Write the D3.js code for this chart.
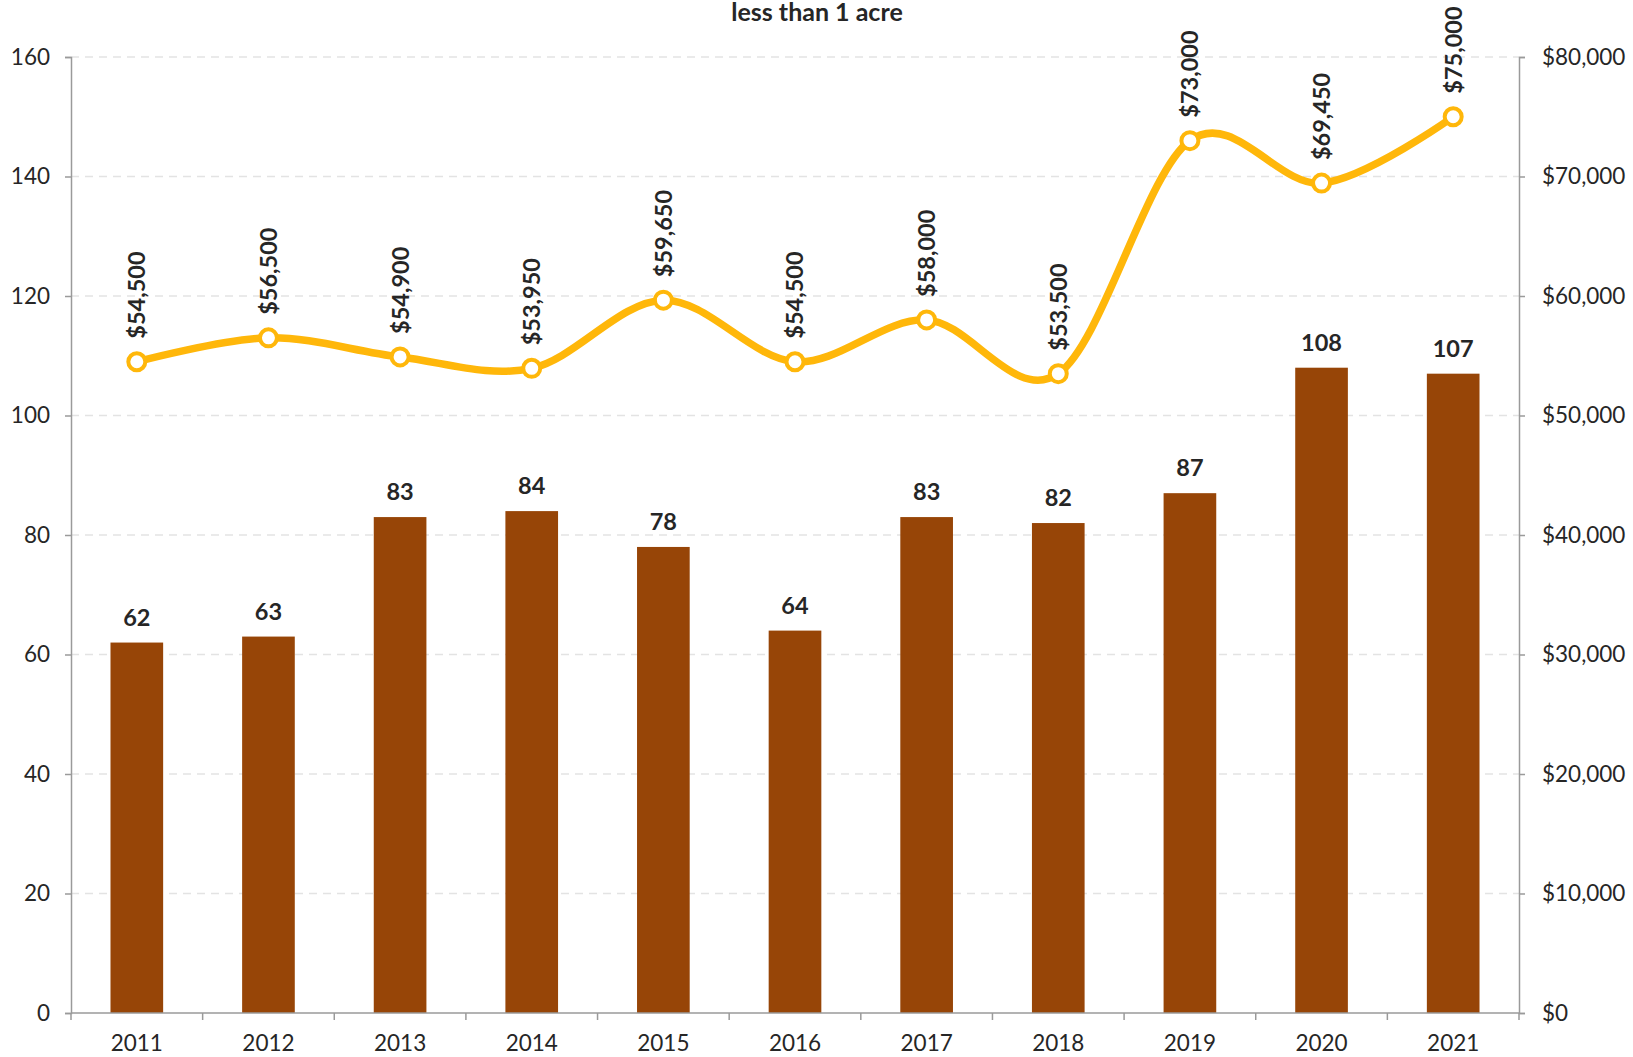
<!DOCTYPE html>
<html>
<head>
<meta charset="utf-8">
<script src="https://cdn.jsdelivr.net/npm/d3@7"></script>
<style>
  body { margin: 0; background: #fff; }
  text { font-family: Lato, "Open Sans", sans-serif; fill: #262626; }
</style>
</head>
<body>
<div id="chart"></div>
<script>
// Données
const years = ["2011", "2012", "2013", "2014", "2015", "2016", "2017", "2018", "2019", "2020", "2021"];
const sales = [62, 63, 83, 84, 78, 64, 83, 82, 87, 108, 107];
const medianPrice = [54500, 56500, 54900, 53950, 59650, 54500, 58000, 53500, 73000, 69450, 75000];
const leftTicks = [0, 20, 40, 60, 80, 100, 120, 140, 160];
const rightTicks = [0, 10000, 20000, 30000, 40000, 50000, 60000, 70000, 80000];

const W = 1633, H = 1057;
const margin = { top: 57, right: W - 1519, bottom: H - 1013, left: 71 };
const width = W - margin.left - margin.right;
const height = H - margin.top - margin.bottom;

const svg = d3.select("#chart").append("svg")
    .attr("width", W)
    .attr("height", H);

// Titre
svg.append("text")
    .attr("x", 817)
    .attr("y", 21)
    .attr("text-anchor", "middle")
    .style("font-size", "25px")
    .style("font-weight", "bold")
    .text("less than 1 acre");

const g = svg.append("g")
    .attr("transform", "translate(" + margin.left + "," + margin.top + ")");

// Échelles
const x = d3.scaleBand().domain(years).range([0, width]).paddingInner(0.6).paddingOuter(0.3);
const xc = d => x(d) + x.bandwidth() / 2;
const step = width / years.length;
const y = d3.scaleLinear().domain([0, 160]).range([height, 0]);
const y2 = d3.scaleLinear().domain([0, 80000]).range([height, 0]);

// Grille
g.selectAll(".grid")
    .data(leftTicks.filter(t => t > 0))
  .enter().append("line")
    .attr("x1", 0).attr("x2", width)
    .attr("y1", d => y(d)).attr("y2", d => y(d))
    .attr("stroke", "#e3e3e3")
    .attr("stroke-width", 1.3)
    .attr("stroke-dasharray", "8,6");

// Barres
g.selectAll(".bar")
    .data(years)
  .enter().append("rect")
    .attr("x", d => x(d))
    .attr("width", x.bandwidth())
    .attr("y", (d, i) => y(sales[i]))
    .attr("height", (d, i) => height - y(sales[i]))
    .attr("fill", "#974507");

g.selectAll(".barlabel")
    .data(years)
  .enter().append("text")
    .attr("x", d => xc(d))
    .attr("y", (d, i) => y(sales[i]) - 17)
    .attr("text-anchor", "middle")
    .style("font-size", "23.5px")
    .style("font-weight", "bold")
    .text((d, i) => sales[i]);

// Axes
const axisColor = "#9a9a9a";
const yAxis = g.append("g")
    .call(d3.axisLeft(y).tickValues(leftTicks).tickSize(6).tickPadding(15));
const y2Axis = g.append("g")
    .attr("transform", "translate(" + width + ",0)")
    .call(d3.axisRight(y2).tickValues(rightTicks).tickSize(6).tickPadding(17)
        .tickFormat(d => "$" + d3.format(",")(d)));
[yAxis, y2Axis].forEach(a => {
    a.select(".domain").attr("stroke", axisColor).attr("stroke-width", 1.5);
    a.selectAll(".tick line").attr("stroke", axisColor).attr("stroke-width", 1.5);
    a.selectAll(".tick text").style("font-size", "22.5px").attr("fill", "#262626");
});

// Axe X : traits entre catégories
const xa = g.append("g").attr("transform", "translate(0," + height + ")");
xa.append("line")
    .attr("x1", 0).attr("x2", width)
    .attr("stroke", axisColor).attr("stroke-width", 1.5);
xa.selectAll(".xt")
    .data(d3.range(years.length + 1))
  .enter().append("line")
    .attr("x1", i => i * step).attr("x2", i => i * step)
    .attr("y1", 0).attr("y2", 7)
    .attr("stroke", axisColor).attr("stroke-width", 1.5);
xa.selectAll(".xl")
    .data(years)
  .enter().append("text")
    .attr("x", d => xc(d))
    .attr("y", 38)
    .attr("text-anchor", "middle")
    .style("font-size", "22.5px")
    .text(d => d);

// Courbe du prix médian
const line = d3.line()
    .x((d, i) => xc(years[i]))
    .y(d => y2(d))
    .curve(d3.curveCardinal.tension(0));

g.append("path")
    .datum(medianPrice)
    .attr("d", line)
    .attr("fill", "none")
    .attr("stroke", "#FFB70A")
    .attr("stroke-width", 7.5);

g.selectAll(".pt")
    .data(medianPrice)
  .enter().append("circle")
    .attr("cx", (d, i) => xc(years[i]))
    .attr("cy", d => y2(d))
    .attr("r", 8.5)
    .attr("fill", "#fff")
    .attr("stroke", "#FFB70A")
    .attr("stroke-width", 4);

g.selectAll(".ptlabel")
    .data(medianPrice)
  .enter().append("text")
    .attr("transform", (d, i) => "translate(" + xc(years[i]) + "," + (y2(d) - 23) + ") rotate(-90)")
    .attr("dy", "0.36em")
    .attr("text-anchor", "start")
    .style("font-size", "23.5px")
    .style("font-weight", "bold")
    .text(d => "$" + d3.format(",")(d));
</script>
</body>
</html>
